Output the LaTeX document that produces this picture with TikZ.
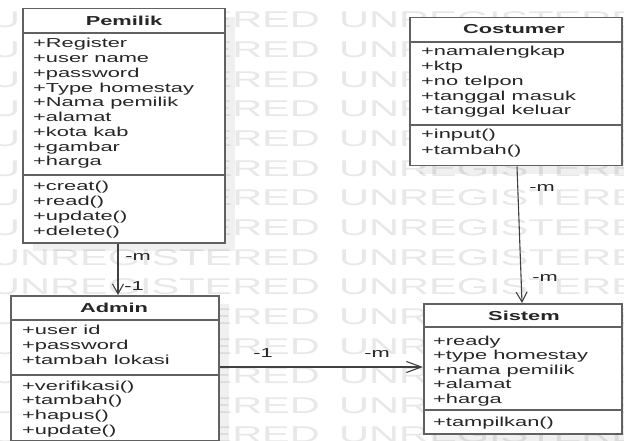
\documentclass[tikz,border=0pt]{standalone}
\usepackage{fontspec}
\setmainfont{Liberation Sans}[FakeStretch=1.68]
\newfontfamily\wmfont{Liberation Sans}[FakeStretch=1.82]
\usetikzlibrary{arrows.meta,shadows}
\begin{document}
\begin{tikzpicture}[x=1pt,y=-1pt,
  umlbox/.style={draw=black!62, line width=1.5pt, fill=white, rectangle, inner sep=0pt, anchor=north west,
     drop shadow={shadow xshift=10pt,shadow yshift=-8pt,fill=black,opacity=0.06}},
  sepline/.style={draw=black!62, line width=1.3pt},
  txt/.style={anchor=base west, inner sep=0pt, font=\fontsize{13}{15}\selectfont, text=black!85},
  hdr/.style={anchor=base, inner sep=0pt, font=\fontsize{13}{15}\selectfont\bfseries, text=black!85},
  lbl/.style={anchor=base, inner sep=0pt, font=\fontsize{13}{15}\selectfont, text=black!85},
  wm/.style={anchor=base west, inner sep=0pt, font=\wmfont\fontsize{22.8}{24}\selectfont, text=black!9},
  conn/.style={draw=black!75, line width=1.1pt},
  vtip/.style={-{Straight Barb[length=10pt,width=11pt]}},
  htip/.style={-{Straight Barb[length=15pt,width=11pt]}}
]
\useasboundingbox (0,0) rectangle (624,441);
\fill[white] (0,0) rectangle (624,441);
% watermark
\foreach \r in {0,...,14}{
  \foreach \c [count=\j] in {-10,339}{
    \node[wm] (wm\r-\j) at (\c,28+29.64*\r) {UNREGISTERED};
  }
}
% Pemilik
\node[umlbox, minimum width=202pt, minimum height=234pt] (pem) at (22,8) {};
\draw[sepline] (pem.west |- 0,33) -- (pem.east |- 0,33);
\draw[sepline] (pem.west |- 0,175) -- (pem.east |- 0,175);
\node[hdr] (pemH) at (124,25.5) {Pemilik};
\foreach \t [count=\i from 0] in {+Register,+user name,+password,+Type homestay,+Nama pemilik,+alamat,+kota kab,+gambar,+harga}
  \node[txt] (pemA\i) at (33,48+14.75*\i) {\t};
\foreach \t [count=\i from 0] in {+creat(),+read(),+update(),+delete()}
  \node[txt] (pemM\i) at (33,190+15*\i) {\t};
% Costumer
\node[umlbox, minimum width=212pt, minimum height=148pt] (cos) at (409,17) {};
\draw[sepline] (cos.west |- 0,42) -- (cos.east |- 0,42);
\draw[sepline] (cos.west |- 0,125) -- (cos.east |- 0,125);
\node[hdr] (cosH) at (514,34) {Costumer};
\foreach \t [count=\i from 0] in {+namalengkap,+ktp,+no telpon,+tanggal masuk,+tanggal keluar}
  \node[txt] (cosA\i) at (421,56+14.75*\i) {\t};
\foreach \t [count=\i from 0] in {+input(),+tambah()}
  \node[txt] (cosM\i) at (421,139+15*\i) {\t};
% Admin
\node[umlbox, minimum width=208pt, minimum height=145pt] (adm) at (10,295) {};
\draw[sepline] (adm.west |- 0,320) -- (adm.east |- 0,320);
\draw[sepline] (adm.west |- 0,375) -- (adm.east |- 0,375);
\node[hdr] (admH) at (114,312.5) {Admin};
\foreach \t [count=\i from 0] in {+user id,+password,+tambah lokasi}
  \node[txt] (admA\i) at (22,334+15*\i) {\t};
\foreach \t [count=\i from 0] in {+verifikasi(),+tambah(),+hapus(),+update()}
  \node[txt] (admM\i) at (22,390+14.7*\i) {\t};
% Sistem
\node[umlbox, minimum width=198pt, minimum height=130pt] (sis) at (423,303) {};
\draw[sepline] (sis.west |- 0,327) -- (sis.east |- 0,327);
\draw[sepline] (sis.west |- 0,410) -- (sis.east |- 0,410);
\node[hdr] (sisH) at (524,320.5) {Sistem};
\foreach \t [count=\i from 0] in {+ready,+type homestay,+nama pemilik,+alamat,+harga}
  \node[txt] (sisA\i) at (433,345+14.6*\i) {\t};
\node[txt] (sisM0) at (433,426) {+tampilkan()};
% connectors
\draw[conn,vtip] (pem.south -| 118,0) -- (adm.north -| 118,0);
\node[lbl] (l1) at (138,260) {-m};
\node[lbl] (l2) at (134,290) {-1};
\draw[conn,vtip] (cos.south -| 517,0) -- (sis.north -| 522,0);
\node[lbl] (l3) at (542,191) {-m};
\node[lbl] (l4) at (545,281) {-m};
\draw[conn,htip] (adm.east |- 0,367) -- (sis.west |- 0,367);
\node[lbl] (l5) at (263,357) {-1};
\node[lbl] (l6) at (377,357) {-m};
\end{tikzpicture}
\end{document}
